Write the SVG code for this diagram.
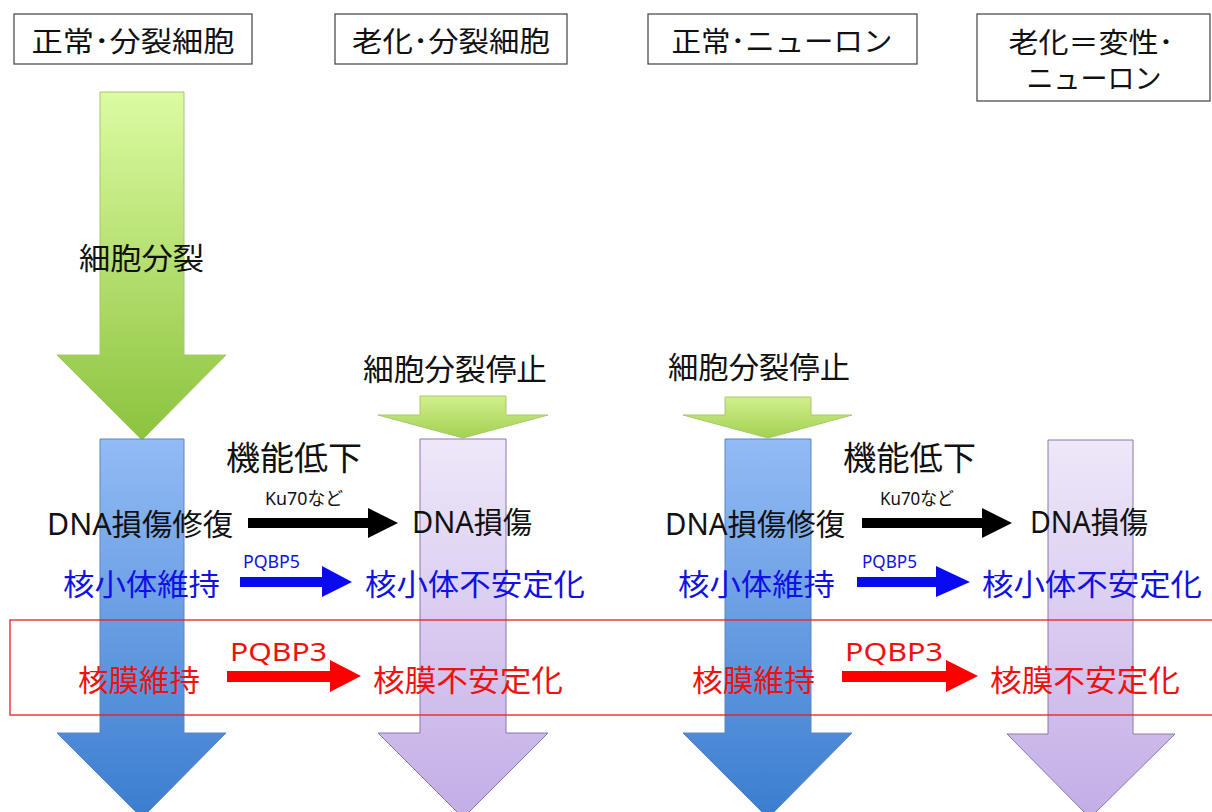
<svg xmlns="http://www.w3.org/2000/svg" width="1212" height="812" viewBox="0 0 1212 812">
<style>
text{font-family:"Noto Sans","Noto Sans CJK JP",sans-serif;}
.box{fill:#fff;stroke:#404040;stroke-width:1.2;}
.bt{font-size:28px;fill:#111;text-anchor:middle;}
.k{font-size:30px;fill:#111;}
.b{font-size:30px;fill:#1111e6;}
.r{font-size:30px;fill:#f01010;}
.big{font-size:33px;fill:#111;}
.sm{font-size:18px;}
.gr{fill:url(#gG);stroke:#a6c86a;stroke-width:1;}
.gs{fill:url(#gS);stroke:#a6c86a;stroke-width:1;}
.bl{fill:url(#gB);stroke:#5b86c0;stroke-width:1;}
.pu{fill:url(#gP);stroke:#8a76ad;stroke-width:1;}
</style>
<defs>
<linearGradient id="gG" x1="0" y1="0" x2="0" y2="1"><stop offset="0" stop-color="#dcfba2"/><stop offset="1" stop-color="#8cc33e"/></linearGradient>
<linearGradient id="gS" x1="0" y1="0" x2="0" y2="1"><stop offset="0" stop-color="#d2ef8e"/><stop offset="1" stop-color="#a2d152"/></linearGradient>
<linearGradient id="gB" x1="0" y1="0" x2="0" y2="1"><stop offset="0" stop-color="#93bbf5"/><stop offset="1" stop-color="#3a7dcf"/></linearGradient>
<linearGradient id="gP" x1="0" y1="0" x2="0" y2="1"><stop offset="0" stop-color="#eee8f9"/><stop offset="1" stop-color="#c3ade6"/></linearGradient>
</defs>
<rect width="1212" height="812" fill="#fff"/>

<g id="header1"><rect class="box" x="14" y="14" width="238" height="50"/><text class="bt" x="133" y="52" textLength="203" lengthAdjust="spacingAndGlyphs">正常･分裂細胞</text></g>
<g id="header2"><rect class="box" x="335" y="14" width="232" height="50"/><text class="bt" x="451" y="52" textLength="198" lengthAdjust="spacingAndGlyphs">老化･分裂細胞</text></g>
<g id="header3"><rect class="box" x="648" y="14" width="269" height="50"/><text class="bt" x="782" y="52" textLength="221" lengthAdjust="spacingAndGlyphs">正常･ニューロン</text></g>
<g id="header4"><rect class="box" x="977" y="14" width="233" height="87"/><text class="bt" x="1091" y="53" textLength="165" lengthAdjust="spacingAndGlyphs">老化＝変性･</text><text class="bt" x="1094" y="89" textLength="135" lengthAdjust="spacingAndGlyphs">ニューロン</text></g>

<g id="division-arrow"><path class="gr" d="M100,92 H184 V355 H226 L142,440 L57,355 H100 Z"/><text class="k" x="79" y="269" font-size="31" textLength="125" lengthAdjust="spacingAndGlyphs">細胞分裂</text></g>
<g id="normal-dividing-arrow"><path class="bl" d="M100,439 H184 V733 H226 L142,818 L57,733 H100 Z"/></g>
<g id="stop-arrow-1"><path class="gs" d="M420,396 H506 V415 H548 L463,438 L378,415 H420 Z"/><text class="k" x="363" y="380" textLength="184" lengthAdjust="spacingAndGlyphs">細胞分裂停止</text></g>
<g id="aged-dividing-arrow"><path class="pu" d="M420,439 H506 V733 H548 L463,818 L378,733 H420 Z"/></g>
<g id="stop-arrow-2"><path class="gs" d="M725,397 H811 V415 H852 L768,438 L683,415 H725 Z"/><text class="k" x="668" y="378" textLength="182" lengthAdjust="spacingAndGlyphs">細胞分裂停止</text></g>
<g id="normal-neuron-arrow"><path class="bl" d="M725,439 H811 V733 H852 L768,818 L683,733 H725 Z"/></g>
<g id="aged-neuron-arrow"><path class="pu" d="M1048,440 H1133 V734 H1175 L1090,818 L1007,734 H1048 Z"/></g>

<g id="connectors">
<path fill="#000" d="M248,518 H368 V508 L398,523 L368,538 V528 H248 Z"/>
<path fill="#000" d="M862,518 H982 V508 L1012,523 L982,538 V528 H862 Z"/>
<path fill="#0a0af0" d="M240,577 H322 V566 L352,582 L322,597 V587 H240 Z"/>
<path fill="#0a0af0" d="M857,577 H936 V566 L970,582 L936,597 V587 H857 Z"/>
<path fill="#f00" d="M227,671 H330 V660 L361,676 L330,692 V682 H227 Z"/>
<path fill="#f00" d="M842,671 H946 V660 L978,676 L946,692 V682 H842 Z"/>
<text class="sm" x="265" y="505" fill="#111" textLength="78" lengthAdjust="spacingAndGlyphs">Ku70など</text>
<text class="sm" x="880" y="505" fill="#111" textLength="74" lengthAdjust="spacingAndGlyphs">Ku70など</text>
<text class="sm" x="243" y="568" fill="#1111e6" textLength="57" lengthAdjust="spacingAndGlyphs">PQBP5</text>
<text class="sm" x="862" y="568" fill="#1111e6" textLength="55" lengthAdjust="spacingAndGlyphs">PQBP5</text>
<text x="230" y="661" font-size="26" fill="#f01010" textLength="97" lengthAdjust="spacingAndGlyphs">PQBP3</text>
<text x="845" y="661" font-size="26" fill="#f01010" textLength="98" lengthAdjust="spacingAndGlyphs">PQBP3</text>
</g>

<g id="decline-1"><text class="big" x="226" y="470" textLength="136" lengthAdjust="spacingAndGlyphs">機能低下</text></g>
<g id="decline-2"><text class="big" x="843" y="470" textLength="133" lengthAdjust="spacingAndGlyphs">機能低下</text></g>

<g id="dna-repair-1"><text class="k" x="47" y="535" textLength="186" lengthAdjust="spacingAndGlyphs">DNA損傷修復</text></g>
<g id="dna-damage-1"><text class="k" x="412" y="533" textLength="120" lengthAdjust="spacingAndGlyphs">DNA損傷</text></g>
<g id="dna-repair-2"><text class="k" x="665" y="535" textLength="180" lengthAdjust="spacingAndGlyphs">DNA損傷修復</text></g>
<g id="dna-damage-2"><text class="k" x="1030" y="533" textLength="118" lengthAdjust="spacingAndGlyphs">DNA損傷</text></g>

<g id="nucleolus-keep-1"><text class="b" x="63" y="595" textLength="157" lengthAdjust="spacingAndGlyphs">核小体維持</text></g>
<g id="nucleolus-unstable-1"><text class="b" x="365" y="595" textLength="220" lengthAdjust="spacingAndGlyphs">核小体不安定化</text></g>
<g id="nucleolus-keep-2"><text class="b" x="678" y="595" textLength="157" lengthAdjust="spacingAndGlyphs">核小体維持</text></g>
<g id="nucleolus-unstable-2"><text class="b" x="982" y="595" textLength="220" lengthAdjust="spacingAndGlyphs">核小体不安定化</text></g>

<g id="envelope-keep-1"><text class="r" x="78" y="691" textLength="122" lengthAdjust="spacingAndGlyphs">核膜維持</text></g>
<g id="envelope-unstable-1"><text class="r" x="373" y="691" textLength="190" lengthAdjust="spacingAndGlyphs">核膜不安定化</text></g>
<g id="envelope-keep-2"><text class="r" x="692" y="691" textLength="123" lengthAdjust="spacingAndGlyphs">核膜維持</text></g>
<g id="envelope-unstable-2"><text class="r" x="990" y="691" textLength="190" lengthAdjust="spacingAndGlyphs">核膜不安定化</text></g>

<g id="highlight"><rect x="10" y="620" width="1210" height="95" fill="none" stroke="#e82020" stroke-width="1.3"/></g>
</svg>
